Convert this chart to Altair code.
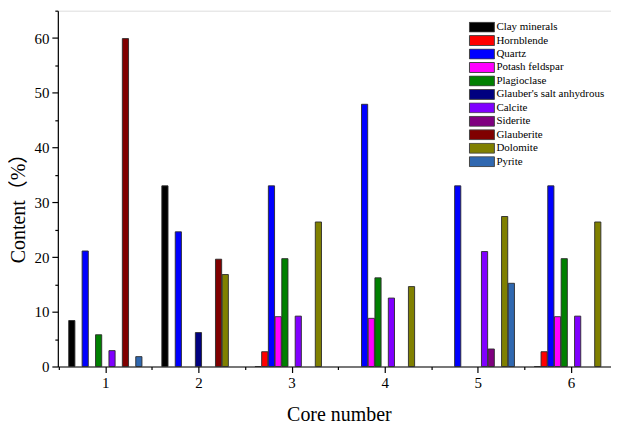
import altair as alt
import pandas as pd

cores = [1, 2, 3, 4, 5, 6]
minerals = ["Clay minerals", "Hornblende", "Quartz", "Potash feldspar", "Plagioclase",
            "Glauber's salt anhydrous", "Calcite", "Siderite", "Glauberite", "Dolomite", "Pyrite"]
colors = ["#000000", "#FF0000", "#0000FF", "#FF00FF", "#008000",
          "#000080", "#8000FF", "#800080", "#800000", "#808000", "#3068B0"]

clay = [8.4, 33.0, 0.0, None, None, 0.0]
hornblende = [None, None, 2.7, None, None, 2.7]
quartz = [21.1, 24.6, 33.0, 47.9, 33.0, 33.0]
potash = [None, None, 9.1, 8.8, None, 9.1]
plagioclase = [5.8, None, 19.7, 16.2, None, 19.7]
glauber_salt = [None, 6.2, None, None, None, None]
calcite = [2.9, None, 9.2, 12.5, 21.0, 9.2]
siderite = [None, None, None, None, 3.2, None]
glauberite = [59.9, 19.6, None, None, None, None]
dolomite = [None, 16.8, 26.4, 14.6, 27.4, 26.4]
pyrite = [1.8, None, None, None, 15.2, None]

series = [clay, hornblende, quartz, potash, plagioclase, glauber_salt,
          calcite, siderite, glauberite, dolomite, pyrite]

rows = []
for i, (name, vals) in enumerate(zip(minerals, series)):
    for c, v in zip(cores, vals):
        if v is not None:
            rows.append({"core": c, "mineral": name, "order": i, "value": v})
df = pd.DataFrame(rows)

FONT = "Liberation Serif, Times New Roman, Noto Sans CJK SC"

bars = alt.Chart(df).transform_calculate(
    pos="datum.core + (datum.order - 5) * 0.072"
).mark_bar(width=6.2, stroke="#2a2a2a", strokeWidth=0.9, orient="vertical").encode(
    x=alt.X("pos:Q",
            scale=alt.Scale(domain=[0.49, 6.43], nice=False, zero=False, padding=0),
            axis=alt.Axis(
                title="Core number",
                values=[0.5, 1, 1.5, 2, 2.5, 3, 3.5, 4, 4.5, 5, 5.5, 6],
                labelExpr="datum.value % 1 === 0 ? '' + datum.value : ''",
                tickSize={"condition": {"test": "datum.value % 1 === 0", "value": 6}, "value": 3},
                grid=False,
                labelFont=FONT, labelFontSize=15, labelColor="#000",
                labelPadding=3, labelFlush=False,
                titleFont=FONT, titleFontSize=20, titleFontWeight="normal", titleColor="#000",
                titleX=282, titleY=54, titleBaseline="alphabetic", titleAnchor="middle",
                domainColor="#000", tickColor="#000", domainWidth=1.2, tickWidth=1.2,
            )),
    y=alt.Y("value:Q",
            scale=alt.Scale(domain=[0, 65], nice=False),
            axis=alt.Axis(
                title="Content（%）",
                values=list(range(0, 70, 5)),
                labelExpr="datum.value % 10 === 0 ? datum.label : ''",
                tickSize={"condition": {"test": "datum.value % 10 === 0", "value": 6}, "value": 3},
                grid=False,
                labelFont=FONT, labelFontSize=15, labelColor="#000", labelPadding=3,
                titleFont=FONT, titleFontSize=20, titleFontWeight="normal", titleColor="#000",
                titleX=-39, titleY=193, titleBaseline="middle", titleAngle=-90,
                domainColor="#000", tickColor="#000", domainWidth=1.2, tickWidth=1.2,
            )),
    color=alt.Color("mineral:N",
                    scale=alt.Scale(domain=minerals, range=colors),
                    sort=minerals,
                    legend=alt.Legend(
                        title=None, orient="none", legendX=410, legendY=11,
                        symbolType="M-5,-2H5V2H-5Z", symbolSize=25, symbolOffset=10,
                        symbolStrokeColor="#444", symbolStrokeWidth=1, symbolOpacity=1,
                        labelFont=FONT, labelFontSize=11, labelColor="#000",
                        labelOffset=9, rowPadding=1.5, padding=0, clipHeight=11,
                    )),
)

chart = bars.properties(
    width=555, height=357,
    autosize=alt.AutoSizeParams(type="none"),
    padding={"left": 50, "top": 2, "right": 0, "bottom": 58},
).configure_view(stroke=None).configure(background="white")

chart.save("out.html", embed_options={"renderer": "svg", "actions": False})
